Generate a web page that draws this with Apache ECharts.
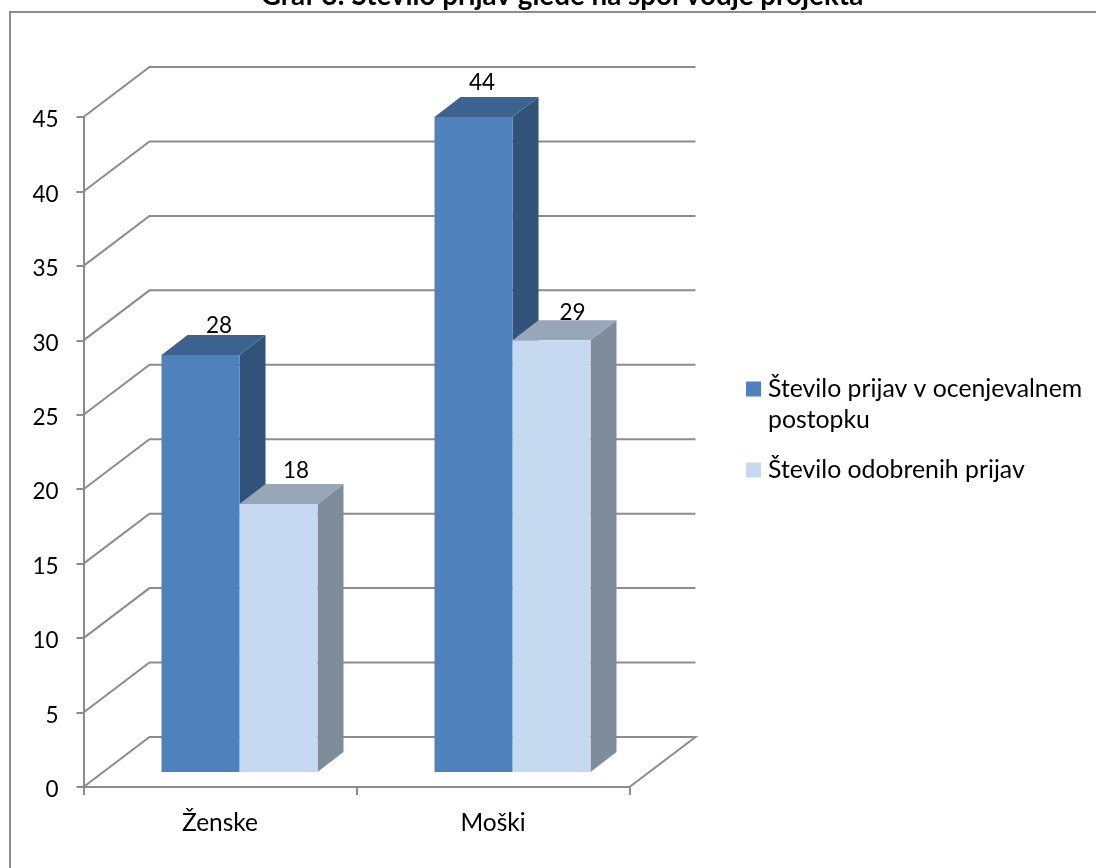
<!DOCTYPE html>
<html><head><meta charset="utf-8">
<style>html,body{margin:0;padding:0;background:#fff}#c{width:1096px;height:868px}</style>
<script src="https://cdn.jsdelivr.net/npm/echarts@6/dist/echarts.min.js"></script>
</head><body><div id="c"></div>
<script>
const categories = ['Ženske', 'Moški'];
const seriesNames = ['Število prijav v ocenjevalnem postopku', 'Število odobrenih prijav'];
const applied = [28, 44];
const approved = [18, 29];
const yTicks = [0, 5, 10, 15, 20, 25, 30, 35, 40, 45];

const FONT = 'Lato, Carlito, sans-serif';
const GRID = '#8c8c8c';
const WALL = {dx: 66, dy: -50};
const FLOOR_SHIFT = {dx: 19.5, dy: -15};
const BAR_W = 78, DEPTH = {dx: 26, dy: -20};
const LABEL_NUDGE = [[[18.5, -1], [8.5, -6]], [[17.5, -5], [21, 1]]];

const chart = echarts.init(document.getElementById('c'), null, {renderer: 'canvas'});

function wallItem(params, api) {
  const v = api.value(0);
  const cs = params.coordSys;
  const y = api.coord([0, v])[1];
  const x0 = cs.x, x1 = cs.x + cs.width;
  const pts = [[x0, y], [x0 + WALL.dx, y + WALL.dy], [x1 + WALL.dx, y + WALL.dy]];
  if (v === 0) pts.push([x1, y]);
  return {type: 'polyline', shape: {points: pts}, silent: true,
    style: {stroke: GRID, lineWidth: 2, fill: null}};
}
function barRenderer(offsetIndex, front, top, side) {
  return function (params, api) {
    const c = api.value(0), v = api.value(1);
    const base = api.coord([c, 0]);
    const head = api.coord([c, v]);
    const xl = base[0] + FLOOR_SHIFT.dx + (offsetIndex - 1) * BAR_W;
    const xr = xl + BAR_W;
    const yb = base[1] + FLOOR_SHIFT.dy;
    const yt = head[1] + FLOOR_SHIFT.dy;
    const d = DEPTH;
    const nudge = LABEL_NUDGE[offsetIndex][c];
    return {type: 'group', children: [
      {type: 'polygon', shape: {points: [[xr, yb], [xr + d.dx, yb + d.dy], [xr + d.dx, yt + d.dy], [xr, yt]]}, style: {fill: side}},
      {type: 'polygon', shape: {points: [[xl, yt], [xr, yt], [xr + d.dx, yt + d.dy], [xl + d.dx, yt + d.dy]]}, style: {fill: top}},
      {type: 'rect', shape: {x: xl, y: yt, width: BAR_W, height: yb - yt}, style: {fill: front}},
      {type: 'text', x: xl + BAR_W / 2 + nudge[0], y: yt + d.dy - 8 + nudge[1],
        style: {text: String(v), font: '22.5px ' + FONT, fill: '#000', align: 'center', verticalAlign: 'middle'}, z2: 10}
    ]};
  };
}
function barData(vals) { return vals.map((v, i) => [i, v]); }

chart.setOption({
  animation: false,
  backgroundColor: '#fff',
  title: {text: 'Graf 3: Število prijav glede na spol vodje projekta', left: 562, textAlign: 'center', top: -18, padding: 0,
    textStyle: {fontFamily: FONT, fontWeight: 'bold', fontSize: 27.8, color: '#000'}},
  grid: {left: 83.5, right: 466.5, top: 117, bottom: 81, containLabel: false},
  legend: {
    left: 746, top: 376.5, padding: 0, orient: 'vertical', icon: 'rect', itemWidth: 15, itemHeight: 15, itemGap: 56,
    selectedMode: false, data: seriesNames,
    formatter: n => n === seriesNames[0] ? 'Število prijav v ocenjevalnem' : n,
    textStyle: {fontFamily: FONT, fontSize: 24.8, color: '#000', lineHeight: 24, padding: [0, 0, 0, 2]}
  },
  graphic: [
    {type: 'rect', shape: {x: 10, y: 12, width: 1100, height: 900}, style: {fill: null, stroke: GRID, lineWidth: 2}, silent: true, z: -1},
    {type: 'text', left: 768, top: 408, style: {text: 'postopku', font: '24.8px ' + FONT, fill: '#000'}, silent: true}
  ],
  xAxis: {type: 'category', data: categories, boundaryGap: true,
    axisLine: {lineStyle: {color: GRID, width: 2}},
    axisTick: {show: true, alignWithLabel: false, length: 8, lineStyle: {color: GRID, width: 2}},
    axisLabel: {color: '#000', fontFamily: FONT, fontSize: 24.5, margin: 24}},
  yAxis: {type: 'value', min: 0, max: 45, interval: 5, splitLine: {show: false},
    axisLine: {show: true, lineStyle: {color: GRID, width: 2}},
    axisTick: {show: true, length: 7, lineStyle: {color: GRID, width: 2}},
    axisLabel: {margin: 25, formatter: '{a|{value}}',
      rich: {a: {color: '#000', fontFamily: FONT, fontSize: 22.5, padding: [6, 0, 0, 0]}}}},
  series: [
    {type: 'custom', name: 'walls', silent: true, z: 1, coordinateSystem: 'cartesian2d', renderItem: wallItem,
      data: yTicks.map(v => [v]), encode: {y: 0}, tooltip: {show: false}},
    {type: 'custom', name: seriesNames[0], z: 2, itemStyle: {color: '#4f81bd'},
      renderItem: barRenderer(0, '#4f81bd', '#3c6390', '#315379'), data: barData(applied), encode: {x: 0, y: 1}},
    {type: 'custom', name: seriesNames[1], z: 3, itemStyle: {color: '#c6d9f1'},
      renderItem: barRenderer(1, '#c6d9f1', '#97a6b9', '#7f8c99'), data: barData(approved), encode: {x: 0, y: 1}}
  ]
});
</script></body></html>
